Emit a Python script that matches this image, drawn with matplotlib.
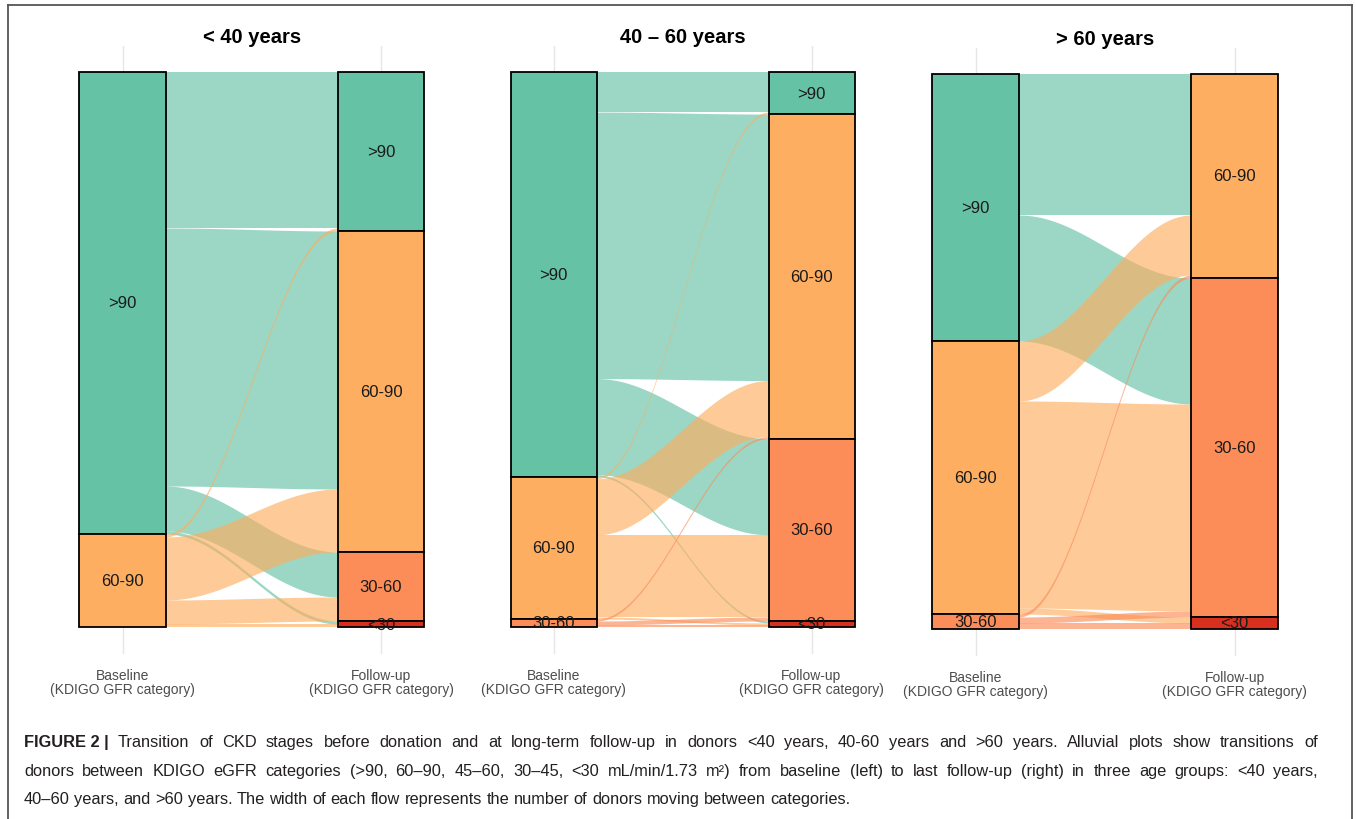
import numpy as np
import matplotlib
matplotlib.use("Agg")
import matplotlib.pyplot as plt
from matplotlib.lines import Line2D

# KDIGO GFR categories, top to bottom
categories = [">90", "60-90", "30-60", "<30"]
stratum_colors = ["#66C2A5", "#FDAE61", "#FC8D59", "#D7301F"]

panel_titles = ["< 40 years", "40 \u2013 60 years", "> 60 years"]
axis_labels = ["Baseline\n(KDIGO GFR category)", "Follow-up\n(KDIGO GFR category)"]

# donors moving from baseline category (rows) to follow-up category (columns)
flows_under40 = [[52, 86, 15, 1],
                 [1, 21, 8, 1],
                 [0, 0, 0, 0],
                 [0, 0, 0, 0]]
flows_40to60 = [[20, 133, 48, 1],
                [1, 28, 41, 1],
                [0, 1, 2, 1],
                [0, 0, 0, 0]]
flows_over60 = [[0, 47, 42, 0],
                [0, 20, 69, 2],
                [0, 1, 2, 2],
                [0, 0, 0, 0]]

caption_bold = "FIGURE 2 |"
caption_lines = [
    "Transition of CKD stages before donation and at long-term follow-up in donors <40 years, 40-60 years and >60 years. Alluvial plots show transitions of",
    "donors between KDIGO eGFR categories (>90, 60\u201390, 45\u201360, 30\u201345, <30 mL/min/1.73 m\u00b2) from baseline (left) to last follow-up (right) in three age groups: <40 years,",
    "40\u201360 years, and >60 years. The width of each flow represents the number of donors moving between categories.",
]

W, H = 1356, 820
FONT = ["Liberation Sans", "DejaVu Sans"]

fig = plt.figure(figsize=(W / 100, H / 100), dpi=100)

# panel layout in pixels: centres of the two axes and top/bottom of the stacks
layout = [
    dict(c1=122.5, c2=381.0, top=73, bottom=628),
    dict(c1=553.5, c2=811.5, top=73, bottom=628),
    dict(c1=975.5, c2=1234.5, top=75, bottom=630),
]
bar_w = 1 / 3
xlo, xhi = 0.7, 2.3


def draw_panel(ax, flows, title):
    F = np.array(flows, dtype=float)
    n_total = F.sum()
    left_tot = F.sum(axis=1)
    right_tot = F.sum(axis=0)
    left_top = n_total - np.concatenate([[0], np.cumsum(left_tot)[:-1]])
    right_top = n_total - np.concatenate([[0], np.cumsum(right_tot)[:-1]])

    # lode positions: on the left ordered by destination, on the right by source
    pos = {}
    cur = left_top.copy()
    for i in range(4):
        for j in range(4):
            if F[i, j] > 0:
                pos[(i, j)] = [cur[i], cur[i] - F[i, j]]
                cur[i] -= F[i, j]
    cur = right_top.copy()
    for j in range(4):
        for i in range(4):
            if F[i, j] > 0:
                pos[(i, j)] += [cur[j], cur[j] - F[i, j]]
                cur[j] -= F[i, j]

    x0, x1 = 1 + bar_w / 2, 2 - bar_w / 2
    t = np.linspace(0, 1, 300)
    s = (1 - np.cos(np.pi * t)) / 2
    xs = x0 + (x1 - x0) * t
    for i in range(4):
        for j in range(4):
            if (i, j) not in pos:
                continue
            lt, lb, rt, rb = pos[(i, j)]
            top = lt + (rt - lt) * s
            bot = lb + (rb - lb) * s
            ax.fill_between(xs, bot, top, color=stratum_colors[i], alpha=0.65,
                            lw=0, zorder=2)

    for x, totals, tops in ((1, left_tot, left_top), (2, right_tot, right_top)):
        for k in range(4):
            if totals[k] <= 0:
                continue
            ax.bar(x, totals[k], bottom=tops[k] - totals[k], width=bar_w,
                   color=stratum_colors[k], edgecolor="black", linewidth=1.3,
                   zorder=3)
            ax.text(x, tops[k] - totals[k] / 2, categories[k], ha="center",
                    va="center", fontsize=12, family=FONT, color="#1a1a1a",
                    zorder=4)

    ax.set_title(title, fontsize=14.5, fontweight="bold", family=FONT, pad=0)
    return n_total


for lay, flows, title in zip(layout, [flows_under40, flows_40to60, flows_over60],
                             panel_titles):
    span = lay["c2"] - lay["c1"]
    left_px = lay["c1"] - (1 - xlo) * span
    right_px = lay["c2"] + (xhi - 2) * span
    ax_top_px = lay["top"] - 26
    ax_bot_px = lay["bottom"] + 27
    ax = fig.add_axes([left_px / W, 1 - ax_bot_px / H,
                       (right_px - left_px) / W, (ax_bot_px - ax_top_px) / H])
    ax.set_facecolor("none")
    n = draw_panel(ax, flows, title)
    bar_px = lay["bottom"] - lay["top"]
    ax.set_xlim(xlo, xhi)
    ax.set_ylim(-n * 27 / bar_px, n + n * 26 / bar_px)
    ax.set_xticks([1, 2])
    ax.set_xticklabels(axis_labels, family=FONT, fontsize=10,
                       color="#4d4d4d", linespacing=1.05)
    ax.tick_params(axis="x", length=0, pad=10)
    ax.set_yticks([])
    ax.grid(axis="x", color="#e6e6e6", linewidth=1.0)
    ax.set_axisbelow(True)
    for sp in ax.spines.values():
        sp.set_visible(False)

# outer frame of the figure
frame_kw = dict(color="#555555", linewidth=1.3, transform=fig.transFigure)
fig.add_artist(Line2D([8 / W, 8 / W], [0, 1 - 6 / H], **frame_kw))
fig.add_artist(Line2D([8 / W, 1352 / W], [1 - 6 / H, 1 - 6 / H], **frame_kw))
fig.add_artist(Line2D([1352 / W, 1352 / W], [0, 1 - 6 / H], **frame_kw))

# caption, justified between left and right margins except for the last line
cap_left, cap_right = 24, 1318
cap_size = 11.8
cap_color = "#231f20"
baselines = [747, 776, 804]
renderer = fig.canvas.get_renderer()


def word_width(word, weight):
    tmp = fig.text(0, 0, word, fontsize=cap_size, family=FONT, fontweight=weight)
    width = tmp.get_window_extent(renderer).width
    tmp.remove()
    return width


def put_line(tokens, yb, justify):
    widths = [word_width(w, wt) for w, wt in tokens]
    space = word_width("a b", "normal") - word_width("ab", "normal")
    if justify and len(tokens) > 1:
        gap = (cap_right - cap_left - sum(widths)) / (len(tokens) - 1)
    else:
        gap = space
    x = cap_left
    for (w, wt), wd in zip(tokens, widths):
        fig.text(x / W, 1 - yb / H, w, fontsize=cap_size, family=FONT,
                 fontweight=wt, va="baseline", color=cap_color)
        x += wd + gap


first = [(caption_bold, "bold")] + [(w, "normal") for w in caption_lines[0].split(" ")]
put_line(first, baselines[0], True)
put_line([(w, "normal") for w in caption_lines[1].split(" ")], baselines[1], True)
put_line([(w, "normal") for w in caption_lines[2].split(" ")], baselines[2], False)

fig.savefig("out.png", dpi=100)
